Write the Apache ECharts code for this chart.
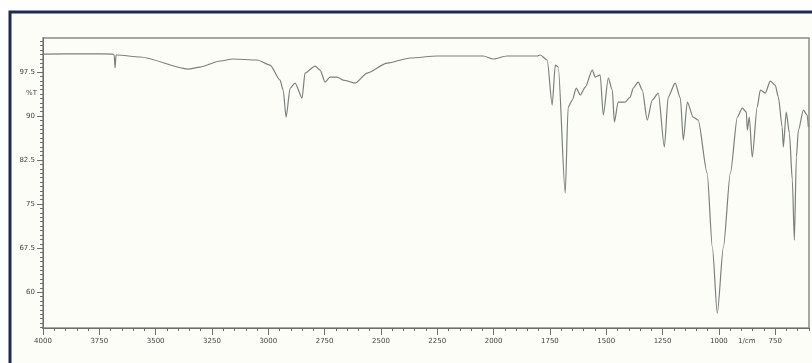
<!DOCTYPE html>
<html>
<head>
<meta charset="utf-8">
<script src="https://cdn.jsdelivr.net/npm/echarts@6/dist/echarts.min.js"></script>
<style>
  html, body { margin: 0; padding: 0; background: #ffffff; }
  #chart { width: 812px; height: 363px; }
</style>
</head>
<body>
<div id="chart"></div>
<script>
// FTIR spectrum, wavenumber (1/cm) vs %T
const wavenumbers = [4000, 3800, 3689, 3684, 3680, 3676, 3671, 3569, 3356, 3303, 3214, 3156, 3050, 2992,
  2948, 2934, 2921, 2903, 2881, 2850, 2837, 2792, 2770, 2748, 2726, 2694, 2668, 2615, 2561, 2472,
  2370, 2250, 2046, 2002, 1940, 1806, 1793, 1762, 1740, 1726, 1713, 1682, 1669, 1651, 1633, 1615,
  1593, 1562, 1549, 1527, 1513, 1491, 1473, 1464, 1447, 1416, 1394, 1380, 1358, 1340, 1318, 1296,
  1269, 1242, 1225, 1194, 1171, 1158, 1140, 1114, 1092, 1052, 1029, 1007, 980, 949, 918, 896, 878,
  874, 865, 852, 830, 816, 794, 772, 750, 736, 719, 714, 701, 687, 674, 665, 656, 647, 625, 608, 603];
const transmittance = [100.57, 100.6, 100.57, 100.4, 98.2, 100.4, 100.4, 100.06, 98.01, 98.35, 99.38, 99.72, 99.55, 98.69,
  96.14, 94.43, 89.83, 94.77, 95.63, 93.07, 97.33, 98.52, 97.84, 95.8, 96.65, 96.65, 96.14, 95.63, 97.33, 99.03,
  99.89, 100.23, 100.23, 99.72, 100.23, 100.23, 100.4, 99.55, 91.88, 98.69, 98.35, 76.88, 91.53, 92.73, 94.77, 93.58,
  94.94, 97.84, 96.65, 96.99, 90.17, 96.48, 94.43, 88.98, 92.39, 92.39, 93.24, 94.77, 95.8, 94.43, 89.32, 92.73,
  93.92, 84.72, 93.24, 95.63, 93.07, 85.91, 92.39, 89.83, 89.32, 80.28, 67.67, 56.42, 67.67, 80.28, 89.83, 91.36, 90.68,
  87.61, 89.83, 83.01, 91.53, 94.43, 93.92, 95.97, 95.28, 93.24, 88.13, 84.72, 90.68, 87.1, 79.09, 68.86, 83.01, 87.61, 91.02, 90.17, 88.13];

const xLabels = [4000, 3750, 3500, 3250, 3000, 2750, 2500, 2250, 2000, 1750, 1500, 1250, 1000, 750];
const xMinorTicks = [];
for (let v = 4000; v >= 600; v -= 50) xMinorTicks.push(v);
const yLabels = [60, 67.5, 75, 82.5, 90, 97.5];
const yMinorTicks = [];
for (let v = 54; v <= 103.2; v += 0.75) yMinorTicks.push(+v.toFixed(2));

const xMin = 600, xMax = 4000;
const yMin = 53.9, yMax = 103.3;

const labelFont = { fontFamily: 'DejaVu Sans', fontSize: 7, color: '#444' };
const axisGray = '#6e6e6e';

const chart = echarts.init(document.getElementById('chart'));

const option = {
  backgroundColor: '#ffffff',
  animation: false,
  graphic: {
    elements: [
      {
        type: 'rect',
        z: -100,
        shape: { x: 10, y: 12, width: 830, height: 400 },
        style: { fill: '#fdfdf8', stroke: '#1c2a55', lineWidth: 3 }
      },
      {
        type: 'text',
        left: 26,
        top: 90,
        style: { text: '%T', font: '7px DejaVu Sans', fill: '#444' }
      },
      {
        type: 'text',
        left: 738,
        top: 338,
        style: { text: '1/cm', font: '7px DejaVu Sans', fill: '#444' }
      }
    ]
  },
  grid: {
    left: 43,
    top: 38,
    right: 3,
    bottom: 35,
    show: true,
    borderColor: '#8a8a8a',
    borderWidth: 1.5,
    backgroundColor: 'transparent'
  },
  xAxis: [
    {
      type: 'value',
      min: xMin,
      max: xMax,
      inverse: true,
      axisLine: { show: true, onZero: false, lineStyle: { color: axisGray } },
      axisTick: { show: true, length: 7, customValues: xLabels, lineStyle: { color: axisGray } },
      axisLabel: Object.assign({ customValues: xLabels, margin: 10, formatter: v => String(v) }, labelFont),
      splitLine: { show: false }
    },
    {
      // minor ticks (ticks only show when the axis line is on)
      type: 'value',
      min: xMin,
      max: xMax,
      inverse: true,
      position: 'bottom',
      axisLine: { show: true, onZero: false, lineStyle: { color: axisGray } },
      axisTick: { show: true, length: 3, customValues: xMinorTicks, lineStyle: { color: axisGray } },
      axisLabel: { show: false },
      splitLine: { show: false }
    }
  ],
  yAxis: [
    {
      type: 'value',
      min: yMin,
      max: yMax,
      axisLine: { show: true, onZero: false, lineStyle: { color: axisGray } },
      axisTick: { show: true, length: 6, customValues: yLabels, lineStyle: { color: axisGray } },
      axisLabel: Object.assign({ customValues: yLabels, margin: 8 }, labelFont),
      splitLine: { show: false }
    },
    {
      type: 'value',
      min: yMin,
      max: yMax,
      position: 'left',
      axisLine: { show: true, onZero: false, lineStyle: { color: axisGray } },
      axisTick: { show: true, length: 3, customValues: yMinorTicks, lineStyle: { color: axisGray } },
      axisLabel: { show: false },
      splitLine: { show: false }
    }
  ],
  series: [
    {
      type: 'line',
      xAxisIndex: 0,
      yAxisIndex: 0,
      data: wavenumbers.map((w, i) => [w, transmittance[i]]),
      showSymbol: false,
      smooth: 0.25,
      smoothMonotone: 'x',
      lineStyle: { color: '#7b807b', width: 1.2 }
    }
  ]
};

chart.setOption(option);
</script>
</body>
</html>
